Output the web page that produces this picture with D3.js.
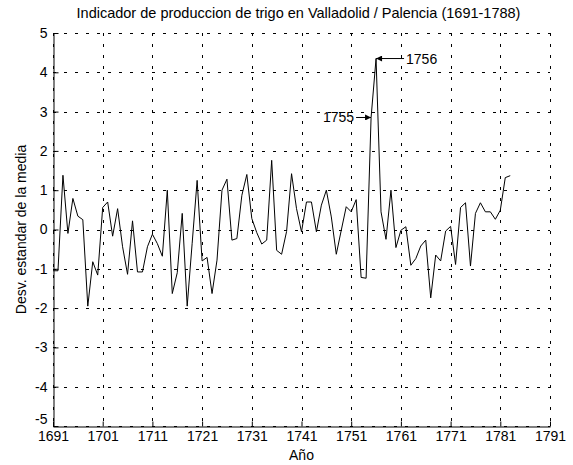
<!DOCTYPE html>
<html>
<head>
<meta charset="utf-8">
<script src="https://cdn.jsdelivr.net/npm/d3@7"></script>
<style>
  body { margin: 0; background: #fff; }
  text { font-family: "Liberation Sans", Arial, sans-serif; fill: #000; }
</style>
</head>
<body>
<div class="chart"></div>
<script>
// Data
const years = d3.range(1691, 1784);
const values = [
    -1.05, -1.05, 1.38, -0.10, 0.79, 0.34, 0.25, -1.95, -0.82, -1.16,   // 1691-1700
    0.56, 0.70, -0.17, 0.53, -0.44, -1.14, 0.22, -1.08, -1.08, -0.44,   // 1701-1710
    -0.12, -0.36, -0.68, 1.00, -1.63, -1.10, 0.41, -1.95, -0.35, 1.25,  // 1711-1720
    -0.80, -0.71, -1.63, -0.78, 1.00, 1.28, -0.27, -0.23, 0.87, 1.40,   // 1721-1730
    0.28, -0.08, -0.37, -0.27, 1.76, -0.53, -0.63, -0.05, 1.42, 0.53,   // 1731-1740
    -0.06, 0.70, 0.70, -0.06, 0.62, 1.00, 0.32, -0.63, -0.02, 0.58,     // 1741-1750
    0.45, 0.76, -1.22, -1.24, 2.85, 4.35, 0.45, -0.25, 1.00, -0.46,     // 1751-1760
    -0.02, 0.07, -0.91, -0.74, -0.42, -0.27, -1.74, -0.65, -0.80, -0.04,// 1761-1770
    0.08, -0.89, 0.56, 0.68, -0.93, 0.41, 0.68, 0.45, 0.45, 0.26,       // 1771-1780
    0.49, 1.32, 1.37                                                    // 1781-1783
];
const xTicks = d3.range(1691, 1792, 10);
const yTicks = d3.range(-5, 6, 1);
const notes = [
    { year: 1755, label: "1755", side: "left" },
    { year: 1756, label: "1756", side: "right" }
];

const width = 573;
const height = 465;
const margin = { top: 33, right: 23, bottom: 39, left: 53 };
const fontSize = 14;

const svg = d3.select(".chart").append("svg")
    .attr("width", width)
    .attr("height", height);

const xScale = d3.scaleLinear()
    .domain([1691, 1791])
    .range([margin.left, width - margin.right]);
const yScale = d3.scaleLinear()
    .domain([-5, 5])
    .range([height - margin.bottom, margin.top]);

// dotted grid
const grid = svg.append("g")
    .attr("stroke", "#000")
    .attr("stroke-width", 1)
    .attr("stroke-dasharray", "3,8");
grid.selectAll(".hgrid")
    .data(yTicks)
    .enter().append("line")
    .attr("x1", xScale(1691)).attr("x2", xScale(1791))
    .attr("y1", d => Math.round(yScale(d)) + 0.5)
    .attr("y2", d => Math.round(yScale(d)) + 0.5);
grid.selectAll(".vgrid")
    .data(xTicks)
    .enter().append("line")
    .attr("y1", yScale(5)).attr("y2", yScale(-5))
    .attr("x1", d => Math.round(xScale(d)) + 0.5)
    .attr("x2", d => Math.round(xScale(d)) + 0.5);

// axes
const xAxis = d3.axisBottom(xScale)
    .tickValues(xTicks)
    .tickFormat(d3.format("d"))
    .tickSizeInner(-5)
    .tickSizeOuter(0)
    .tickPadding(5);
const yAxis = d3.axisLeft(yScale)
    .tickValues(yTicks)
    .tickFormat(d => String(d))   // plain hyphen, like the original
    .tickSizeInner(-5)
    .tickSizeOuter(0)
    .tickPadding(6);

const gx = svg.append("g")
    .attr("transform", `translate(0, ${Math.round(yScale(-5)) + 0.5})`)
    .call(xAxis);
const gy = svg.append("g")
    .attr("transform", `translate(${Math.round(xScale(1691)) + 0.5}, 0)`)
    .call(yAxis);

[gx, gy].forEach(g => {
    g.selectAll("path, line").attr("stroke", "#000");
    g.selectAll("text").attr("font-size", fontSize).attr("font-family", "Liberation Sans, Arial, sans-serif");
});
// lowest y label nudged up like the original
gy.selectAll(".tick text").filter(d => d === -5).attr("dy", "-0.2em");

// series line
const line = d3.line()
    .x((d, i) => xScale(years[i]))
    .y(d => yScale(d));
svg.append("path")
    .datum(values)
    .attr("fill", "none")
    .attr("stroke", "#000")
    .attr("stroke-width", 1)
    .attr("d", line);

// annotations
svg.append("defs").append("marker")
    .attr("id", "head")
    .attr("viewBox", "0 0 10 10")
    .attr("refX", 10).attr("refY", 5)
    .attr("markerWidth", 8).attr("markerHeight", 6)
    .attr("markerUnits", "userSpaceOnUse")
    .attr("orient", "auto")
    .append("path")
    .attr("d", "M0,0L10,5L0,10Z")
    .attr("fill", "#000");

notes.forEach(n => {
    const i = years.indexOf(n.year);
    const px = xScale(n.year);
    const py = yScale(values[i]);
    if (n.side === "left") {
        svg.append("line")
            .attr("x1", px - 15).attr("x2", px)
            .attr("y1", py).attr("y2", py)
            .attr("stroke", "#000")
            .attr("marker-end", "url(#head)");
        svg.append("text")
            .attr("x", px - 17).attr("y", py + 5)
            .attr("text-anchor", "end")
            .attr("font-size", fontSize)
            .text(n.label);
    } else {
        svg.append("line")
            .attr("x1", px + 28).attr("x2", px)
            .attr("y1", py).attr("y2", py)
            .attr("stroke", "#000")
            .attr("marker-end", "url(#head)");
        svg.append("text")
            .attr("x", px + 30).attr("y", py + 5)
            .attr("font-size", fontSize)
            .text(n.label);
    }
});

// titles
svg.append("text")
    .attr("x", (xScale(1691) + xScale(1791)) / 2 - 3)
    .attr("y", 18)
    .attr("text-anchor", "middle")
    .attr("font-size", 14.5)
    .text("Indicador de produccion de trigo en Valladolid / Palencia (1691-1788)");
svg.append("text")
    .attr("x", (xScale(1691) + xScale(1791)) / 2)
    .attr("y", 460)
    .attr("text-anchor", "middle")
    .attr("font-size", fontSize)
    .text("Año");
svg.append("text")
    .attr("transform", `translate(26, ${yScale(0)}) rotate(-90)`)
    .attr("text-anchor", "middle")
    .attr("font-size", fontSize)
    .text("Desv. estandar de la media");
</script>
</body>
</html>
